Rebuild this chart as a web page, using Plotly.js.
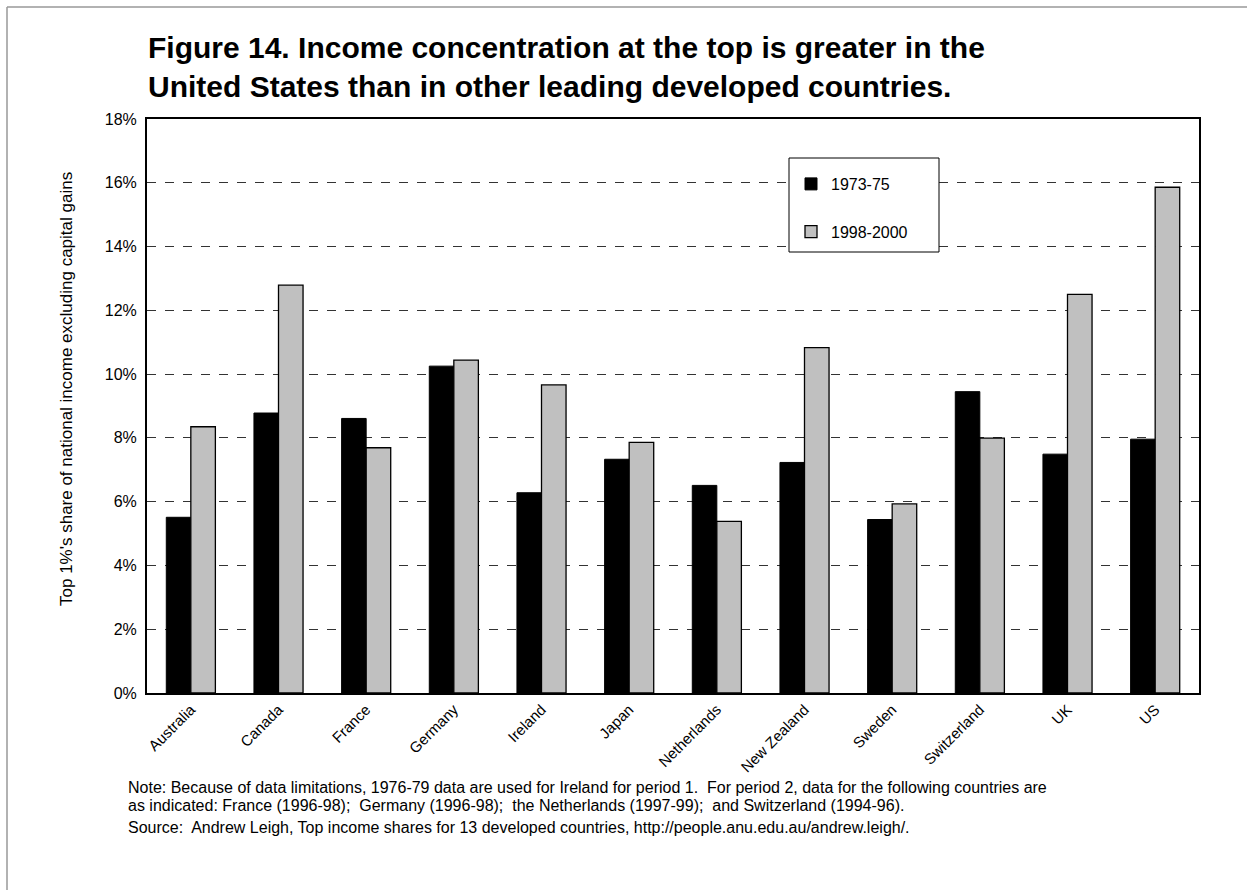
<!DOCTYPE html>
<html>
<head>
<meta charset="utf-8">
<script src="https://cdn.plot.ly/plotly-3.0.1.min.js"></script>
<style>html,body{margin:0;padding:0;background:#fff;}#chart{width:1247px;height:890px;}</style>
</head>
<body>
<div id="chart"></div>
<script>
const countries = ["Australia","Canada","France","Germany","Ireland","Japan","Netherlands","New Zealand","Sweden","Switzerland","UK","US"];
const period1 = [5.51, 8.78, 8.61, 10.25, 6.28, 7.33, 6.51, 7.23, 5.44, 9.45, 7.49, 7.96];
const period2 = [8.35, 12.79, 7.69, 10.44, 9.66, 7.86, 5.38, 10.83, 5.93, 7.99, 12.50, 15.86];
const seriesNames = ["1973-75", "1998-2000"];
const yTicks = [0,2,4,6,8,10,12,14,16,18];
const yTickText = yTicks.map(v => v + "%");

const titleText = "<b>Figure 14. Income concentration at the top is greater in the<br>United States than in other leading developed countries.</b>";
const yTitle = "Top 1%'s share of national income excluding capital gains";
const noteLines = [
  "Note: Because of data limitations, 1976-79 data are used for Ireland for period 1.  For period 2, data for the following countries are",
  "as indicated: France (1996-98);  Germany (1996-98);  the Netherlands (1997-99);  and Switzerland (1994-96).",
  "Source:  Andrew Leigh, Top income shares for 13 developed countries, http://people.anu.edu.au/andrew.leigh/."
];

const W = 1247, H = 890;
const L = 147, R = 1199, T = 119, B = 693;
const px = x => (x - L) / (R - L);
const py = y => (B - y) / (B - T);

const font = "Arial, 'Liberation Sans', sans-serif";

const traces = [
  {type:'bar', name: seriesNames[0], x: countries, y: period1, legendgroup:'a',
   marker:{color:'#000000', line:{color:'#000000', width:1}}},
  {type:'bar', name: seriesNames[1], x: countries, y: period2, legendgroup:'b',
   marker:{color:'#c0c0c0', line:{color:'#000000', width:1.3}}}
];

const annotations = noteLines.map((t, i) => ({
  text: t, xref: 'paper', yref: 'paper', x: px(126), y: py([787, 805, 827][i]),
  xanchor: 'left', yanchor: 'middle', showarrow: false, align: 'left',
  font: {family: font, size: 16, color: '#000'}
}));
annotations.push({
  text: yTitle, xref: 'paper', yref: 'paper', x: px(66), y: py(389),
  xanchor: 'center', yanchor: 'middle', textangle: -90, showarrow: false,
  font: {family: font, size: 17, color: '#000'}
});

const layout = {
  width: W, height: H,
  margin: {l: L, r: W - R, t: T, b: H - B, pad: 0},
  paper_bgcolor: '#ffffff', plot_bgcolor: '#ffffff',
  font: {family: font, color: '#000', size: 16},
  title: {text: titleText, x: 148 / W, xanchor: 'left', xref: 'container',
          y: 1 - 58 / H, yanchor: 'top', yref: 'container',
          font: {family: font, size: 30, color: '#000'}},
  barmode: 'group', bargap: 0.44, bargroupgap: 0,
  showlegend: true,
  legend: {x: px(791), y: py(167), xanchor: 'left', yanchor: 'top',
           bgcolor: 'rgba(0,0,0,0)', borderwidth: 0, tracegroupgap: 24,
           font: {family: font, size: 16, color: '#000'}, itemwidth: 30},
  xaxis: {type: 'category', showline: true, mirror: true, linecolor: '#000', linewidth: 2,
          showgrid: false, tickangle: -45, ticks: '', tickfont: {family: font, size: 15, color: '#000'},
          automargin: false},
  yaxis: {range: [0, 18], tickvals: yTicks, ticktext: yTickText, showline: true, mirror: true,
          linecolor: '#000', linewidth: 2, showgrid: true, gridcolor: '#333', gridwidth: 1, griddash: 'dash',
          zeroline: false, ticks: '', ticklabelstandoff: 5,
          tickfont: {family: font, size: 16, color: '#000'},
          automargin: false},
  shapes: [
    {type:'rect', xref:'paper', yref:'paper', x0: px(789), x1: px(939), y0: py(252), y1: py(158),
     line:{color:'#000', width:1}, fillcolor:'#ffffff', layer:'above'},
    {type:'line', xref:'paper', yref:'paper', x0: px(7), x1: px(W), y0: py(7), y1: py(7),
     line:{color:'#999', width:1.5}},
    {type:'line', xref:'paper', yref:'paper', x0: px(7), x1: px(7), y0: py(7), y1: py(H),
     line:{color:'#999', width:1.5}}
  ],
  annotations: annotations
};

Plotly.newPlot('chart', traces, layout, {displayModeBar: false, staticPlot: true});
</script>
</body>
</html>
